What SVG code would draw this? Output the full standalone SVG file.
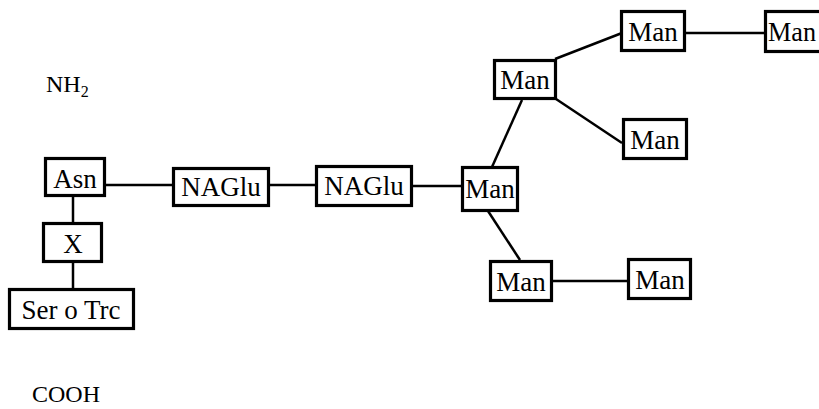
<svg xmlns="http://www.w3.org/2000/svg" width="819" height="409" viewBox="0 0 819 409">
  <style>
    .box { fill: #fff; stroke: #000; stroke-width: 3.2; }
    .lbl { font-family: "Liberation Serif", "Times New Roman", serif; font-size: 27px; fill: #000; text-anchor: middle; }
    .lbl.start { text-anchor: start; }
    .term { font-family: "Liberation Serif", "Times New Roman", serif; font-size: 24px; fill: #000; }
    .link { stroke: #000; stroke-width: 2.5; fill: none; }
  </style>
  <rect width="819" height="409" fill="#fff"/>

  <!-- terminal labels -->
  <text class="term" x="46" y="92">NH<tspan font-size="16" dy="5">2</tspan></text>
  <text class="term" x="32" y="402">COOH</text>

  <!-- connectors -->
  <g id="connectors">
    <line class="link" x1="106" y1="185" x2="172" y2="185"/>
    <line class="link" x1="270" y1="185" x2="315" y2="185"/>
    <line class="link" x1="413" y1="186" x2="461" y2="186"/>
    <line class="link" x1="73" y1="197" x2="73" y2="222"/>
    <line class="link" x1="73" y1="263" x2="73" y2="288"/>
    <line class="link" x1="492" y1="167" x2="522" y2="100"/>
    <line class="link" x1="555" y1="59" x2="622" y2="33"/>
    <line class="link" x1="686" y1="33" x2="764" y2="33"/>
    <line class="link" x1="556" y1="99" x2="622" y2="143"/>
    <line class="link" x1="488" y1="211" x2="520" y2="260"/>
    <line class="link" x1="553" y1="281" x2="627" y2="281"/>
  </g>

  <!-- peptide chain -->
  <g id="asn">
    <rect class="box" x="45.5" y="158.5" width="59" height="37"/>
    <text class="lbl" x="75" y="188">Asn</text>
  </g>
  <g id="x">
    <rect class="box" x="43.5" y="223.5" width="58" height="38"/>
    <text class="lbl" x="73" y="253">X</text>
  </g>
  <g id="ser-trc">
    <rect class="box" x="9.5" y="289.5" width="124" height="39"/>
    <text class="lbl" x="71" y="319">Ser o Trc</text>
  </g>

  <!-- core sugars -->
  <g id="naglu1">
    <rect class="box" x="173.5" y="168.5" width="95" height="37"/>
    <text class="lbl" x="221" y="196">NAGlu</text>
  </g>
  <g id="naglu2">
    <rect class="box" x="316.5" y="166.5" width="95" height="39"/>
    <text class="lbl" x="364" y="195">NAGlu</text>
  </g>
  <g id="man-core">
    <rect class="box" x="462.5" y="167.5" width="55" height="43"/>
    <text class="lbl" x="490" y="198">Man</text>
  </g>

  <!-- upper branch -->
  <g id="man-upper">
    <rect class="box" x="494.5" y="60.5" width="61" height="38"/>
    <text class="lbl" x="525" y="89">Man</text>
  </g>
  <g id="man-top">
    <rect class="box" x="621.5" y="11.5" width="63" height="39"/>
    <text class="lbl" x="653" y="41">Man</text>
  </g>
  <!-- this box runs past the right edge of the canvas; label kept inside -->
  <g id="man-top-right">
    <rect class="box" x="765.5" y="11.5" width="63" height="40"/>
    <text class="lbl start" x="768" y="41" textLength="48" lengthAdjust="spacingAndGlyphs">Man</text>
  </g>
  <g id="man-mid-right">
    <rect class="box" x="623.5" y="119.5" width="63" height="39"/>
    <text class="lbl" x="655" y="149">Man</text>
  </g>

  <!-- lower branch -->
  <g id="man-lower">
    <rect class="box" x="490.5" y="261.5" width="61" height="39"/>
    <text class="lbl" x="521" y="291">Man</text>
  </g>
  <g id="man-lower-right">
    <rect class="box" x="628.5" y="259.5" width="62" height="39"/>
    <text class="lbl" x="660" y="289">Man</text>
  </g>
</svg>
